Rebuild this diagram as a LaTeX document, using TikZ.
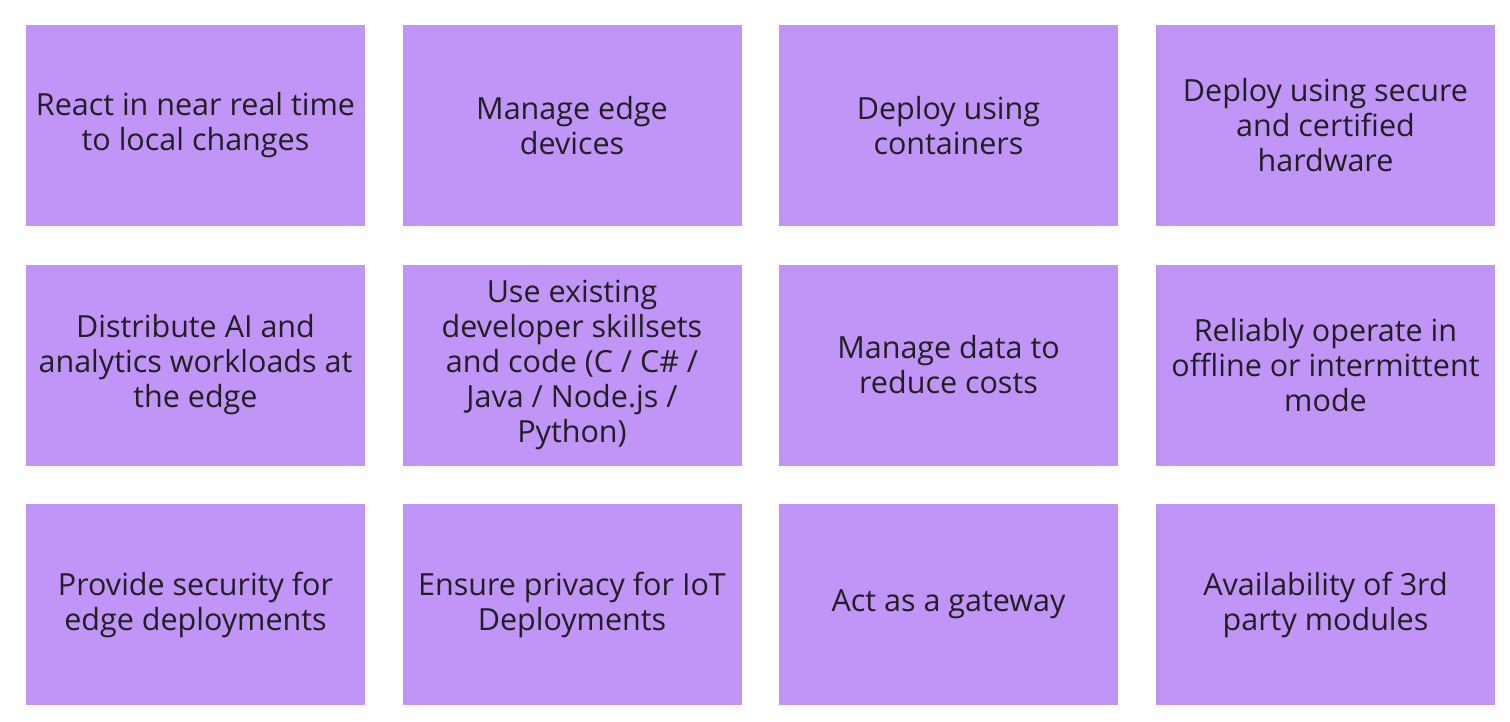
\documentclass[tikz,border=0pt]{standalone}
\usepackage{fontspec}
\setmainfont{Open Sans}
\definecolor{boxfill}{RGB}{193,148,247}
\definecolor{txt}{RGB}{34,30,36}
\begin{document}
\begin{tikzpicture}[x=1pt,y=-1pt,
  card/.style={fill=boxfill,draw=none,minimum width=339pt,minimum height=201pt,inner sep=0pt,
    text=txt,align=center,font=\fontsize{30.5}{35}\selectfont}]
\useasboundingbox (0,0) rectangle (1510,721);
\node[card] (a1) at (195.5,125.5) {React in near real time\\to local changes};
\node[card] (a2) at (572,125.5) {Manage edge\\devices};
\node[card] (a3) at (948.5,125.5) {Deploy using\\containers};
\node[card] (a4) at (1325.5,125.5) {Deploy using secure\\and certified\\hardware};
\node[card] (b1) at (195.5,365) {Distribute AI and\\analytics workloads at\\the edge};
\node[card] (b2) at (572,365) {Use existing\\developer skillsets\\and code (C / C\# /\\Java / Node.js /\\Python)};
\node[card] (b3) at (948.5,365) {Manage data to\\reduce costs};
\node[card] (b4) at (1325.5,365) {Reliably operate in\\offline or intermittent\\mode};
\node[card] (c1) at (195.5,604.5) {Provide security for\\edge deployments};
\node[card] (c2) at (572,604.5) {Ensure privacy for IoT\\Deployments};
\node[card] (c3) at (948.5,604.5) {Act as a gateway};
\node[card] (c4) at (1325.5,604.5) {Availability of 3rd\\party modules};
\end{tikzpicture}
\end{document}
